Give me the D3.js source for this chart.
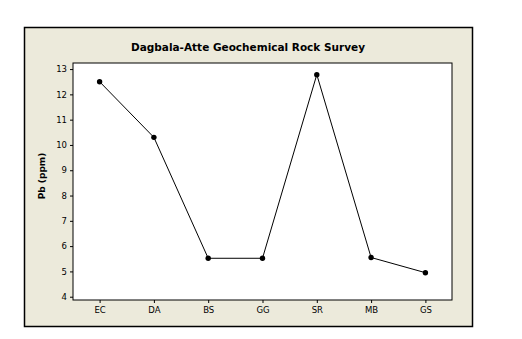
<!DOCTYPE html>
<html><head><meta charset="utf-8">
<script src="https://cdn.jsdelivr.net/npm/d3@7"></script>
<style>body{margin:0;background:#fff;}svg{display:block;}</style>
</head><body>
<script>
const categories = ["EC","DA","BS","GG","SR","MB","GS"];
const pbValues = [12.5, 10.3, 5.52, 5.52, 12.78, 5.55, 4.95];
const yTicks = [4,5,6,7,8,9,10,11,12,13];
const title = "Dagbala-Atte Geochemical Rock Survey";
const yLabel = "Pb (ppm)";

const W = 522, H = 339;
const svg = d3.select("body").append("svg").attr("width", W).attr("height", H);
svg.append("rect").attr("width", W).attr("height", H).attr("fill", "#fff");
// outer frame
svg.append("rect").attr("x", 24.5).attr("y", 27.5).attr("width", 448).attr("height", 299)
  .attr("fill", "#ECEADB").attr("stroke", "#000").attr("stroke-width", 1.5);

const pl = 73, pr = 452, pt = 63, pb = 300;
svg.append("rect").attr("x", pl).attr("y", pt).attr("width", pr - pl).attr("height", pb - pt)
  .attr("fill", "#fff").attr("stroke", "#000").attr("stroke-width", 1);

const x = d3.scalePoint().domain(categories).range([pl, pr]).padding(0.49);
const y = d3.scaleLinear().domain([3.87, 13.24]).range([pb, pt]);

const font = "Tahoma, 'DejaVu Sans', sans-serif";
const xAxis = svg.append("g").attr("transform", `translate(0,${pb})`)
  .call(d3.axisBottom(x).tickSize(3).tickPadding(4));
const yAxis = svg.append("g").attr("transform", `translate(${pl},0)`)
  .call(d3.axisLeft(y).tickValues(yTicks).tickSize(3).tickPadding(3));
[xAxis, yAxis].forEach(a => {
  a.select(".domain").remove();
  a.selectAll("text").attr("font-family", font).attr("font-size", 8.5).attr("fill", "#000");
  a.selectAll("line").attr("stroke", "#000");
});

const line = d3.line().x((d, i) => x(categories[i])).y(d => y(d));
svg.append("path").datum(pbValues).attr("d", line).attr("fill", "none")
  .attr("stroke", "#000").attr("stroke-width", 1);
svg.selectAll("circle.pt").data(pbValues).enter().append("circle")
  .attr("cx", (d, i) => x(categories[i])).attr("cy", d => y(d)).attr("r", 2.7).attr("fill", "#000");

svg.append("text").attr("x", 248).attr("y", 51).attr("text-anchor", "middle")
  .attr("font-family", font).attr("font-weight", "bold").attr("font-size", 10.5).text(title);
svg.append("text").attr("transform", `translate(45,176) rotate(-90)`).attr("text-anchor", "middle")
  .attr("font-family", font).attr("font-weight", "bold").attr("font-size", 9).text(yLabel);
</script>
</body></html>
